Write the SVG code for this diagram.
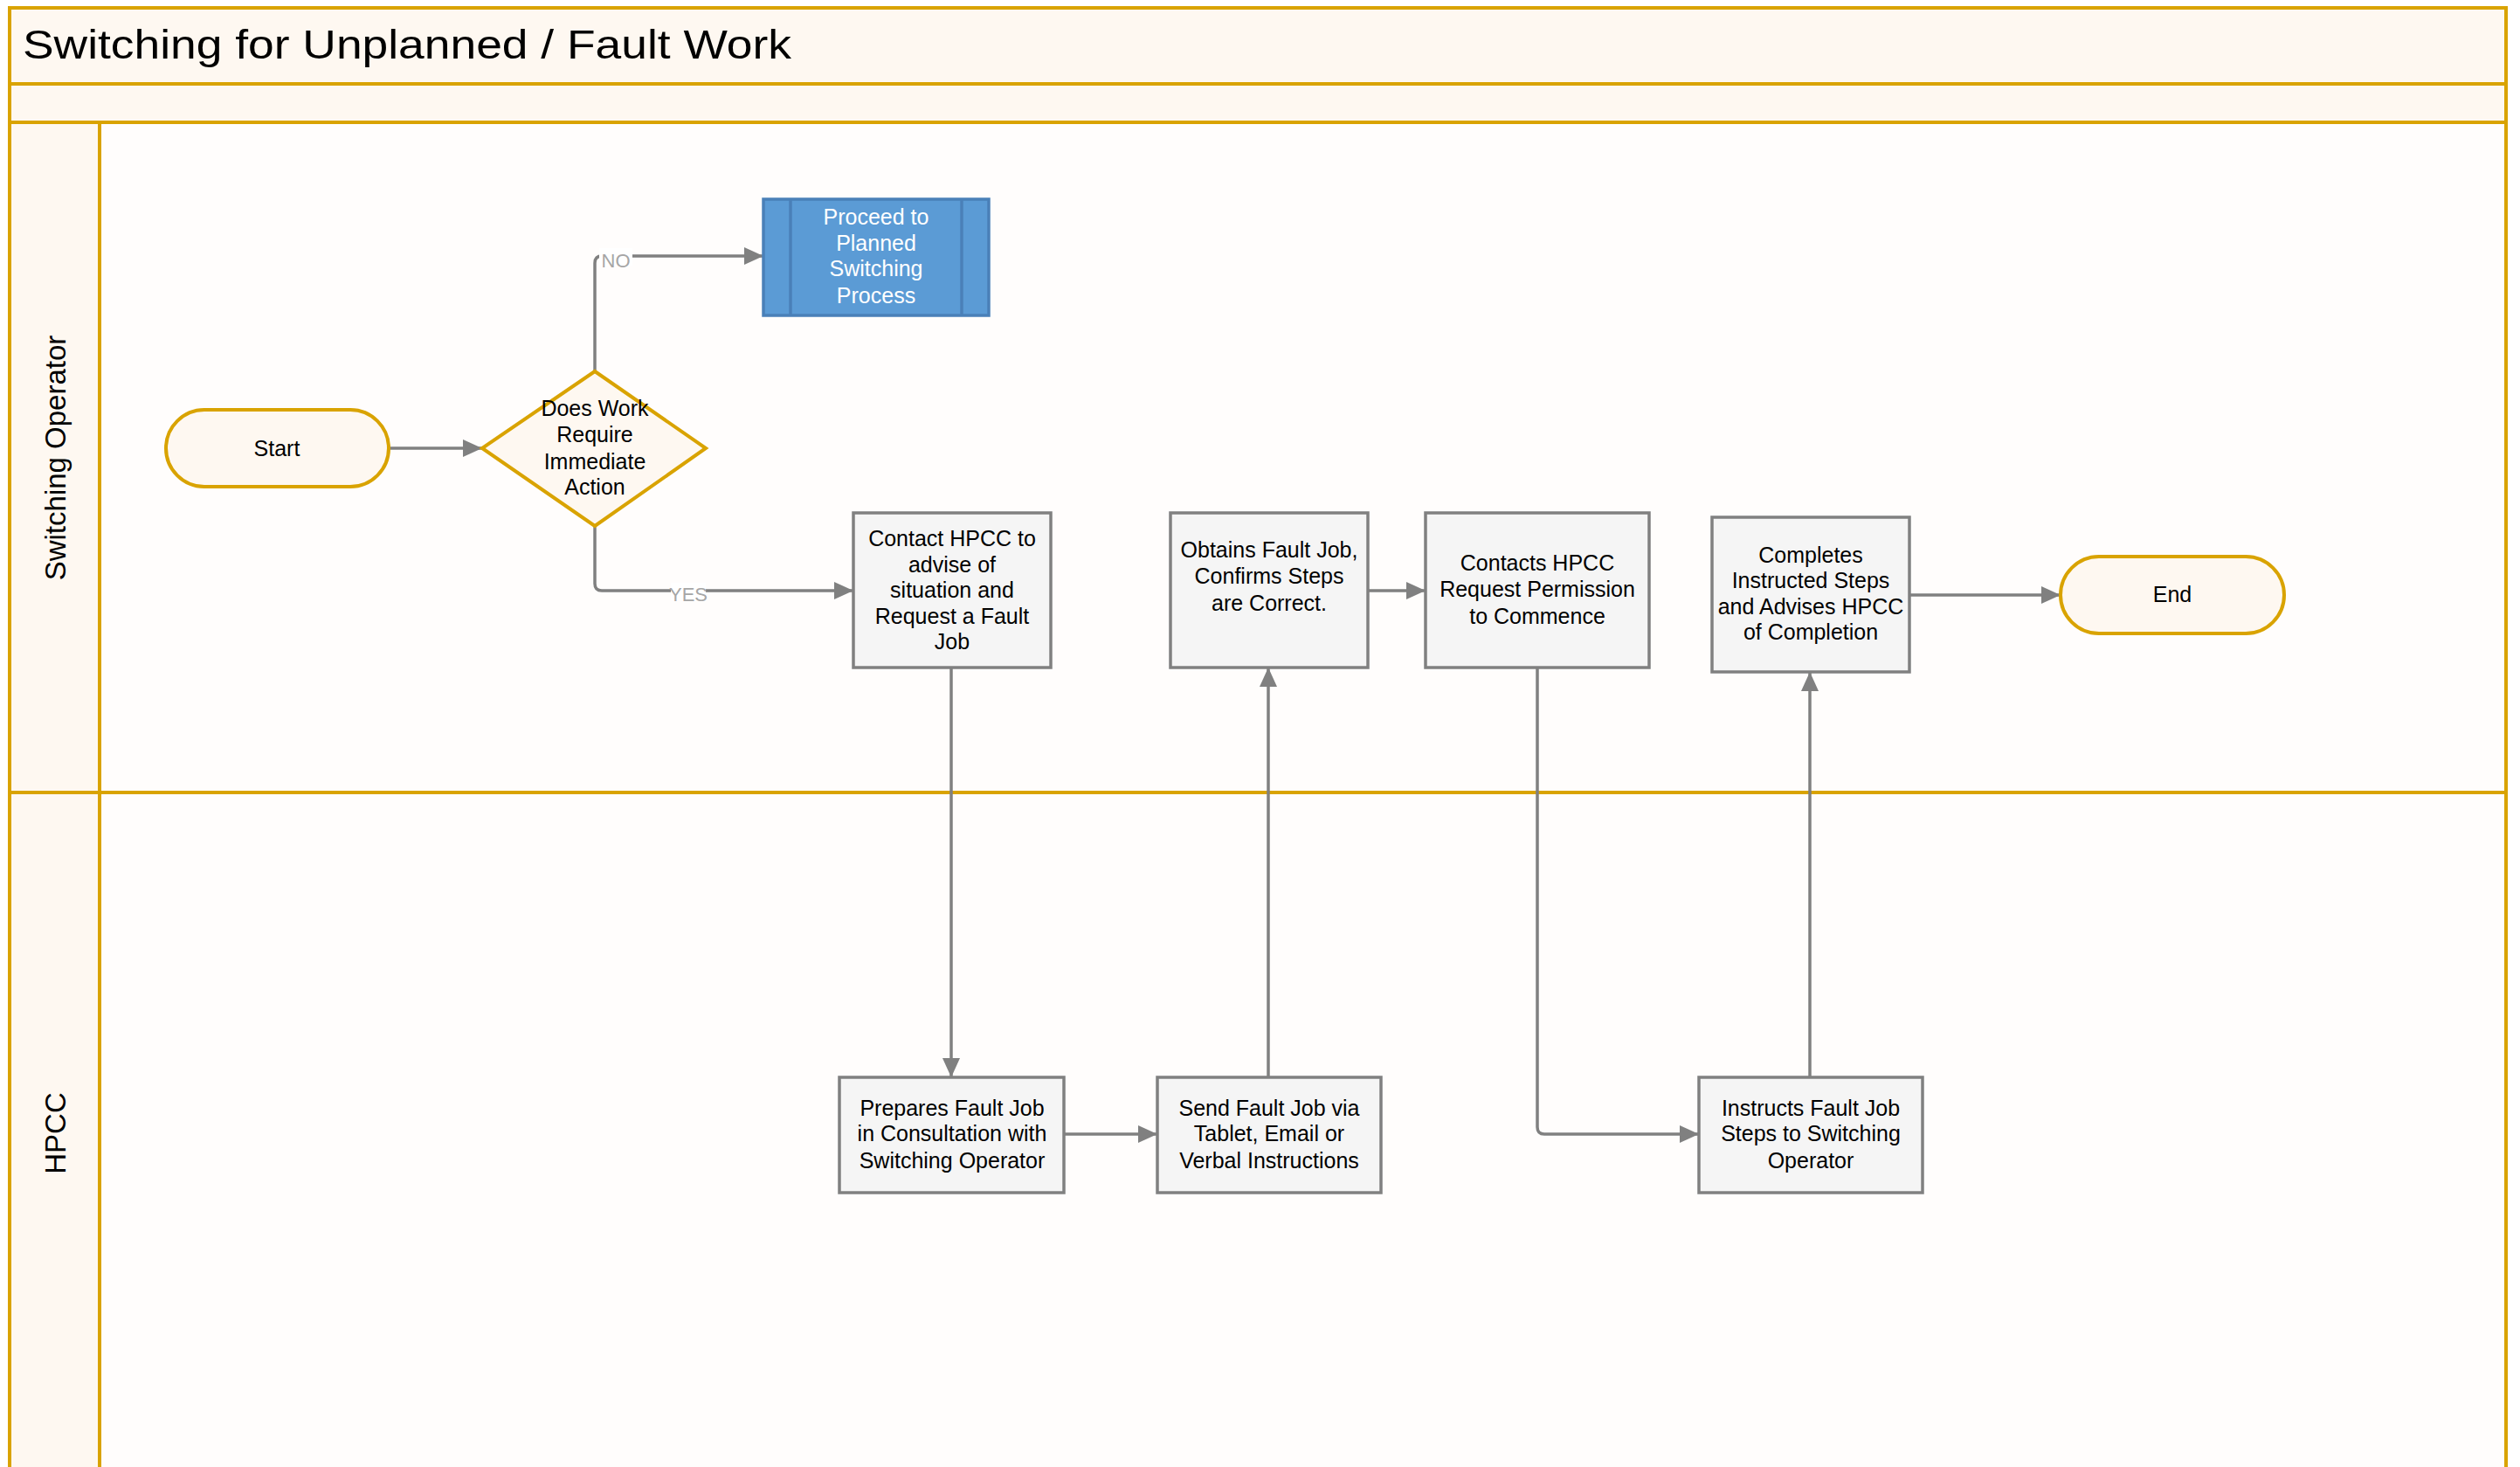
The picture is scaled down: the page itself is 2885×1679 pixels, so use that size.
<svg xmlns="http://www.w3.org/2000/svg" width="2885" height="1679" viewBox="0 0 2885 1679">
<style>
.band{fill:#FEF8F1;stroke:#D9A300;stroke-width:4}
.lane{fill:#FFFDFC;stroke:#D9A300;stroke-width:4}
.term{fill:#FEF8F1;stroke:#D9A300;stroke-width:4}
.box{fill:#F5F5F5;stroke:#808080;stroke-width:3.5}
.sub{fill:#5B9BD5;stroke:#4A80B8;stroke-width:3.5}
.t{font-family:"Liberation Sans",Arial,sans-serif;font-size:25px;fill:#000;text-anchor:middle}
.tw{fill:#FFFFFF}
.lbl{font-family:"Liberation Sans",Arial,sans-serif;font-size:22px;fill:#A6A6A6;text-anchor:middle}
.lh{font-family:"Liberation Sans",Arial,sans-serif;font-size:33px;fill:#000;text-anchor:middle}
.conn{fill:none;stroke:#808080;stroke-width:3.5}
</style>
<defs>
<marker id="arr" viewBox="0 0 22 20" refX="22" refY="10" markerWidth="22" markerHeight="20" markerUnits="userSpaceOnUse" orient="auto">
<path d="M0,0 L22,10 L0,20 z" fill="#808080"/>
</marker>
</defs>
<rect x="0" y="0" width="2885" height="1679" fill="#FFFFFF"/>

<g id="pool">
<rect class="band" x="11" y="9" width="2858" height="87"/>
<text x="26" y="67" font-family="Liberation Sans, Arial, sans-serif" font-size="47" textLength="880" lengthAdjust="spacingAndGlyphs">Switching for Unplanned / Fault Work</text>
<rect class="band" x="11" y="96" width="2858" height="44"/>
</g>

<g id="lane-switching-operator">
<rect class="lane" x="11" y="140" width="2858" height="767"/>
<rect class="band" x="11" y="140" width="103" height="767"/>
<text class="lh" transform="translate(75,524) rotate(-90)">Switching Operator</text>
</g>

<g id="lane-hpcc">
<rect class="lane" x="11" y="907" width="2858" height="780"/>
<rect class="band" x="11" y="907" width="103" height="780"/>
<text class="lh" transform="translate(75,1297) rotate(-90)">HPCC</text>
</g>

<g id="connectors">
<path class="conn" d="M445,513 H552" marker-end="url(#arr)"/>
<path class="conn" d="M681,425 V301 Q681,293 689,293 H874" marker-end="url(#arr)"/>
<path class="conn" d="M681,602 V668 Q681,676 689,676 H977" marker-end="url(#arr)"/>
<path class="conn" d="M1089,764 V1233" marker-end="url(#arr)"/>
<path class="conn" d="M1218,1298 H1325" marker-end="url(#arr)"/>
<path class="conn" d="M1452,1233 V764" marker-end="url(#arr)"/>
<path class="conn" d="M1566,676 H1632" marker-end="url(#arr)"/>
<path class="conn" d="M1760,764 V1290 Q1760,1298 1768,1298 H1945" marker-end="url(#arr)"/>
<path class="conn" d="M2072,1233 V769" marker-end="url(#arr)"/>
<path class="conn" d="M2186,681 H2359" marker-end="url(#arr)"/>
<rect x="686" y="284" width="38" height="20" fill="#FFFFFF"/>
<text class="lbl" x="705" y="306">NO</text>
<rect x="768" y="667" width="40" height="20" fill="#FFFFFF"/>
<text class="lbl" x="788" y="688">YES</text>
</g>

<g id="start">
<rect class="term" x="190" y="469" width="255" height="88" rx="44" ry="44"/>
<text class="t" x="317" y="522">Start</text>
</g>

<g id="decision">
<polygon class="term" points="681,425 808,513 681,602 552,513"/>
<text class="t" x="681" y="476">Does Work</text>
<text class="t" x="681" y="506">Require</text>
<text class="t" x="681" y="537">Immediate</text>
<text class="t" x="681" y="566">Action</text>
</g>

<g id="proceed-planned">
<rect class="sub" x="874" y="228" width="258" height="133"/>
<line x1="905" y1="228" x2="905" y2="361" stroke="#4A80B8" stroke-width="3.5"/>
<line x1="1101" y1="228" x2="1101" y2="361" stroke="#4A80B8" stroke-width="3.5"/>
<text class="t tw" x="1003" y="257">Proceed to</text>
<text class="t tw" x="1003" y="287">Planned</text>
<text class="t tw" x="1003" y="316">Switching</text>
<text class="t tw" x="1003" y="347">Process</text>
</g>

<g id="contact-hpcc">
<rect class="box" x="977" y="587" width="226" height="177"/>
<text class="t" x="1090" y="625">Contact HPCC to</text>
<text class="t" x="1090" y="655">advise of</text>
<text class="t" x="1090" y="684">situation and</text>
<text class="t" x="1090" y="714">Request a Fault</text>
<text class="t" x="1090" y="743">Job</text>
</g>

<g id="obtains-fault-job">
<rect class="box" x="1340" y="587" width="226" height="177"/>
<text class="t" x="1453" y="638">Obtains Fault Job,</text>
<text class="t" x="1453" y="668">Confirms Steps</text>
<text class="t" x="1453" y="699">are Correct.</text>
</g>

<g id="contacts-hpcc-permission">
<rect class="box" x="1632" y="587" width="256" height="177"/>
<text class="t" x="1760" y="653">Contacts HPCC</text>
<text class="t" x="1760" y="683">Request Permission</text>
<text class="t" x="1760" y="714">to Commence</text>
</g>

<g id="completes-steps">
<rect class="box" x="1960" y="592" width="226" height="177"/>
<text class="t" x="2073" y="644">Completes</text>
<text class="t" x="2073" y="673">Instructed Steps</text>
<text class="t" x="2073" y="703">and Advises HPCC</text>
<text class="t" x="2073" y="732">of Completion</text>
</g>

<g id="end">
<rect class="term" x="2359" y="637" width="256" height="88" rx="44" ry="44"/>
<text class="t" x="2487" y="689">End</text>
</g>

<g id="prepares-fault-job">
<rect class="box" x="961" y="1233" width="257" height="132"/>
<text class="t" x="1090" y="1277">Prepares Fault Job</text>
<text class="t" x="1090" y="1306">in Consultation with</text>
<text class="t" x="1090" y="1337">Switching Operator</text>
</g>

<g id="send-fault-job">
<rect class="box" x="1325" y="1233" width="256" height="132"/>
<text class="t" x="1453" y="1277">Send Fault Job via</text>
<text class="t" x="1453" y="1306">Tablet, Email or</text>
<text class="t" x="1453" y="1337">Verbal Instructions</text>
</g>

<g id="instructs-fault-job">
<rect class="box" x="1945" y="1233" width="256" height="132"/>
<text class="t" x="2073" y="1277">Instructs Fault Job</text>
<text class="t" x="2073" y="1306">Steps to Switching</text>
<text class="t" x="2073" y="1337">Operator</text>
</g>
</svg>
